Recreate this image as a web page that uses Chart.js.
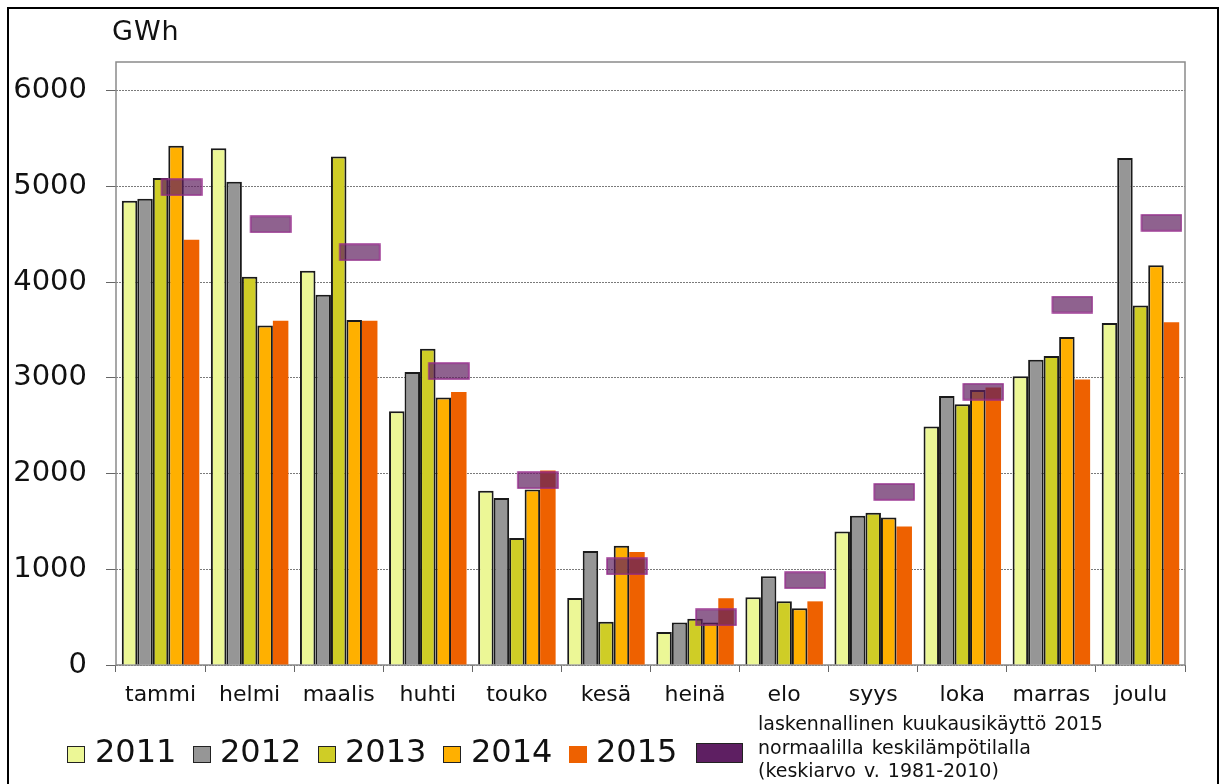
<!DOCTYPE html>
<html>
<head>
<meta charset="utf-8">
<script src="https://cdn.jsdelivr.net/npm/chart.js@4"></script>
<style>
  body { margin: 0; background: #fff; overflow: hidden; font-family: 'DejaVu Sans', sans-serif; }
  #wrap { position: relative; width: 1221px; height: 784px; }
  #frame { position: absolute; left: 7px; top: 7px; width: 1212px; height: 800px; border: 2.5px solid #000; box-sizing: border-box; }
  #c { position: absolute; left: 0; top: 0; }
  .unit { position: absolute; left: 112px; top: 15px; font-size: 27px; letter-spacing: 1px; color: #111; }
  .sw { position: absolute; top: 746px; width: 18px; height: 17px; box-sizing: border-box; border: 1.5px solid #222; }
  .lab { position: absolute; top: 735px; font-size: 32px; line-height: 32px; color: #111; }
  .note { position: absolute; left: 758px; top: 712px; font-size: 19px; line-height: 23.5px; color: #111; word-spacing: 2px; }
</style>
</head>
<body>
<div id="wrap">
  <div id="frame"></div>
  <canvas id="c" width="1221" height="784"></canvas>
  <div class="unit">GWh</div>
  <div id="legend"></div>
  <div class="note">laskennallinen kuukausikäyttö 2015<br>normaalilla keskilämpötilalla<br>(keskiarvo v. 1981-2010)</div>
</div>
<script>
// kuukausikulutus, GWh
const months = ['tammi', 'helmi', 'maalis', 'huhti', 'touko', 'kesä', 'heinä', 'elo', 'syys', 'loka', 'marras', 'joulu'];
const years = ['2011', '2012', '2013', '2014', '2015'];
const v2011 = [4850, 5400, 4120, 2650, 1820, 700, 345, 707, 1396, 2493, 3016, 3572];
const v2012 = [4870, 5050, 3868, 3060, 1746, 1192, 443, 927, 1560, 2811, 3188, 5297];
const v2013 = [5088, 4056, 5312, 3304, 1327, 453, 484, 665, 1590, 2725, 3229, 3755];
const v2014 = [5424, 3548, 3604, 2796, 1833, 1247, 443, 592, 1542, 2874, 3427, 4177];
const v2015 = [4444, 3596, 3596, 2852, 2031, 1181, 697, 665, 1448, 2900, 2982, 3580];
const normal2015 = [4992, 4604, 4312, 3070, 1930, 1031, 498, 885, 1810, 2856, 3766, 4621];
const yTicks = [0, 1000, 2000, 3000, 4000, 5000, 6000];

const colors = ['#ECF796', '#969696', '#CFCD26', '#FFB000', '#EE6100'];
const series = [v2011, v2012, v2013, v2014, v2015];

// purple marker: a translucent box shifted right of the category centre
function makeMarker() {
    const cv = document.createElement('canvas');
    cv.width = 84;
    cv.height = 18;
    const g = cv.getContext('2d');
    g.fillStyle = 'rgba(96, 32, 96, 0.7)';
    g.fillRect(43, 1, 40, 16);
    g.strokeStyle = 'rgba(150, 40, 140, 0.9)';
    g.lineWidth = 1.5;
    g.strokeRect(43, 1, 40, 16);
    return cv;
}

const datasets = series.map((vals, i) => ({
    label: years[i],
    data: vals,
    backgroundColor: colors[i],
    borderColor: '#1a1a1a',
    borderWidth: i < 4 ? 2 : 0,
    categoryPercentage: 0.87,
    barPercentage: 1.0
}));

datasets.push({
    type: 'line',
    label: 'normaali',
    data: normal2015,
    showLine: false,
    pointStyle: makeMarker(),
    pointRadius: 5,
    order: -1
});

const framePlugin = {
    id: 'frame',
    beforeDatasetsDraw(chart) {
        const a = chart.chartArea;
        const ctx = chart.ctx;
        ctx.save();
        ctx.setLineDash([]);
        ctx.strokeStyle = '#8a8a8a';
        ctx.lineWidth = 1.5;
        ctx.strokeRect(a.left, a.top, a.right - a.left, a.bottom - a.top);
        ctx.restore();
    }
};

new Chart(document.getElementById('c'), {
    type: 'bar',
    data: { labels: months, datasets: datasets },
    options: {
        responsive: false,
        animation: false,
        layout: { padding: { left: 0, top: 62, right: 36, bottom: 74 } },
        plugins: {
            legend: { display: false },
            tooltip: { enabled: false }
        },
        scales: {
            x: {
                afterFit: (s) => { s.height = 45; },
                grid: { drawOnChartArea: false, drawTicks: true, tickLength: 7, color: '#666' },
                border: { display: false },
                ticks: { font: { family: 'DejaVu Sans', size: 22 }, color: '#111', padding: 10 }
            },
            y: {
                min: 0,
                max: 6300,
                afterFit: (s) => { s.width = 116; },
                afterBuildTicks: (s) => { s.ticks = yTicks.map(v => ({ value: v })); },
                grid: { color: '#7a7a7a', lineWidth: 1, tickLength: 10, tickColor: '#666' },
                border: { display: false, dash: [2, 1] },
                ticks: {
                    font: { family: 'DejaVu Sans', size: 29 },
                    color: '#111',
                    padding: 19,
                    callback: (v) => String(v)
                }
            }
        }
    },
    plugins: [framePlugin]
});

// legend row
const legend = document.getElementById('legend');
const swX = [67, 193, 318, 443, 569];
const labX = [95, 220, 345, 471, 596];
years.forEach((y, i) => {
    const sw = document.createElement('div');
    sw.className = 'sw';
    sw.style.left = swX[i] + 'px';
    sw.style.background = colors[i];
    if (i === 4) sw.style.border = 'none';
    legend.appendChild(sw);
    const t = document.createElement('div');
    t.className = 'lab';
    t.style.left = labX[i] + 'px';
    t.textContent = y;
    legend.appendChild(t);
});
const psw = document.createElement('div');
psw.className = 'sw';
psw.style.left = '696px';
psw.style.top = '743px';
psw.style.width = '47px';
psw.style.height = '20px';
psw.style.background = '#5E1F62';
legend.appendChild(psw);
</script>
</body>
</html>
